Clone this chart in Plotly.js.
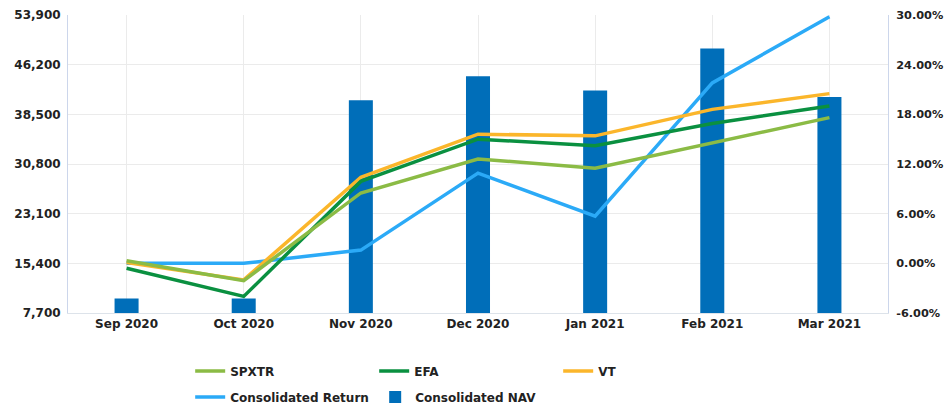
<!DOCTYPE html>
<html>
<head>
<meta charset="utf-8">
<script src="https://cdn.plot.ly/plotly-3.0.1.min.js"></script>
<style>html,body{margin:0;padding:0;background:#fff;}#chart{width:944px;height:405px;}</style>
</head>
<body>
<div id="chart"></div>
<script>
const months = ["Sep 2020","Oct 2020","Nov 2020","Dec 2020","Jan 2021","Feb 2021","Mar 2021"];
const consolidatedNAV = [9950, 9950, 40700, 44400, 42200, 48700, 41200];
const spxtr = [0.3, -2.1, 8.5, 12.6, 11.5, 14.6, 17.6];
const efa = [-0.6, -4.0, 9.9, 15.0, 14.2, 16.9, 19.0];
const vt = [0.1, -2.0, 10.4, 15.6, 15.4, 18.6, 20.5];
const consolidatedReturn = [0.0, 0.0, 1.6, 10.9, 5.7, 21.8, 29.8];
const leftTicks = [7700, 15400, 23100, 30800, 38500, 46200, 53900];
const rightTicks = [-6, 0, 6, 12, 18, 24, 30];

const fam = "DejaVu Sans, Verdana, sans-serif";
const boldFont = {family: fam, size: 12, color: "#222", weight: "bold"};

function line(name, y, color, legend, rank) {
  return {type: "scatter", mode: "lines", name: name, x: months, y: y, yaxis: "y2",
    line: {color: color, width: 3.5}, hoverinfo: "skip", legend: legend, legendrank: rank};
}

const traces = [
  {type: "bar", name: "Consolidated NAV", x: months, y: consolidatedNAV, yaxis: "y",
   marker: {color: "#006EB9"}, width: 0.205, legend: "legend2", legendrank: 2},
  line("Consolidated Return", consolidatedReturn, "#2BAAF7", "legend2", 1),
  line("VT", vt, "#FBB62B", "legend", 3),
  line("EFA", efa, "#0A9040", "legend", 2),
  line("SPXTR", spxtr, "#8BBB45", "legend", 1)
];

const legendBase = {
  orientation: "h", xanchor: "left", yanchor: "middle",
  traceorder: "normal", entrywidthmode: "pixels",
  font: boldFont, itemwidth: 30, bgcolor: "rgba(0,0,0,0)"
};

const layout = {
  width: 944, height: 405,
  margin: {l: 68, r: 56, t: 15, b: 92, autoexpand: false},
  paper_bgcolor: "#fff", plot_bgcolor: "#fff",
  font: {family: fam, size: 12, color: "#222"},
  showlegend: true,
  legend: Object.assign({}, legendBase, {x: 0.149, y: -0.1946, entrywidth: 139}),
  legend2: Object.assign({}, legendBase, {x: 0.149, y: -0.282, entrywidth: 140}),
  xaxis: {
    type: "category", range: [-0.5, 6.5],
    showgrid: true, gridcolor: "#ebebeb", gridwidth: 1,
    showline: true, linecolor: "#dde3ea", linewidth: 1,
    ticks: "", tickfont: boldFont,
    automargin: false, fixedrange: true
  },
  yaxis: {
    range: [7700, 53900], tickvals: leftTicks, tickformat: ",d",
    showgrid: true, gridcolor: "#ebebeb", gridwidth: 1,
    showline: true, linecolor: "#ccd6eb", linewidth: 1,
    zeroline: false, ticks: "", ticklabelstandoff: 4,
    tickfont: boldFont,
    automargin: false
  },
  yaxis2: {
    overlaying: "y", side: "right",
    range: [-6, 30], tickvals: rightTicks, ticktext: rightTicks.map(v => v.toFixed(2) + "%"),
    showgrid: false, showline: true, linecolor: "#ccd6eb", linewidth: 1,
    zeroline: false, ticks: "", ticklabelstandoff: 5,
    tickfont: {family: fam, size: 11.3, color: "#222", weight: "bold"},
    automargin: false
  },
  bargap: 0.8
};

Plotly.newPlot("chart", traces, layout, {displayModeBar: false, staticPlot: true});
</script>
</body>
</html>
